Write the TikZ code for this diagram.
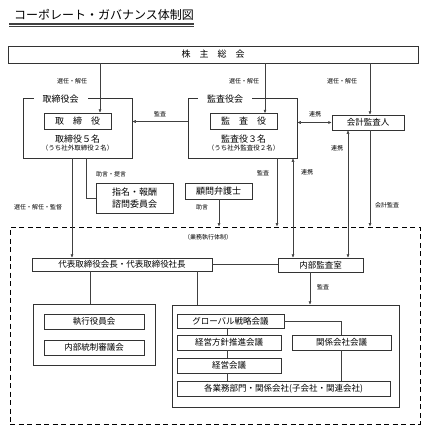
\documentclass[tikz,border=0pt]{standalone}
\usepackage{fontspec}
\setmainfont{Noto Sans CJK JP}
\usetikzlibrary{arrows.meta}
\tikzset{
  box/.style={draw=black!80, line width=0.5pt, inner sep=0pt, font=\fontsize{8.5}{10}\selectfont},
  lbl/.style={font=\fontsize{6}{7}\selectfont, inner sep=0pt},
  link/.style={draw=black!75, line width=0.5pt},
  tip/.style={link, -{Latex[length=3.5pt,width=3pt]}},
  tips/.style={link, {Latex[length=3.5pt,width=3pt]}-{Latex[length=3.5pt,width=3pt]}},
}

\begin{document}
\begin{tikzpicture}[x=1pt,y=-1pt]
  \useasboundingbox (0,0) rectangle (431,431);
  % title
  \node[anchor=west, inner sep=0pt, font=\fontsize{12}{13}\selectfont] (title) at (14,15) {コーポレート・ガバナンス体制図};
  \draw[black!75, line width=1.1pt] (9,24) -- (194,24);
  \draw[black!75, line width=0.5pt] (9,26.5) -- (194,26.5);

  % top level
  \node[box, minimum width=410pt, minimum height=17pt, font=\fontsize{9}{10}\selectfont] (holders) at (213,54.5) {株　主　総　会};

  \node[box, minimum width=109pt, minimum height=60pt] (board) at (77.5,128) {};
  \node[fill=white, inner xsep=9pt, inner ysep=1pt, font=\fontsize{9}{10}\selectfont] (boardlbl) at (60.5,99) {取締役会};
  \node[box, minimum width=67pt, minimum height=16pt, font=\fontsize{9}{10}\selectfont] (director) at (77.5,121) {取　締　役};
  \node[inner sep=0pt, font=\fontsize{9}{10}\selectfont] (dirnum) at (77.5,139) {取締役５名};
  \node[inner sep=0pt, font=\fontsize{6.5}{7}\selectfont] (dirout) at (77.5,148.5) {（うち社外取締役２名）};

  \node[box, minimum width=109pt, minimum height=60pt] (audboard) at (242.5,128) {};
  \node[fill=white, inner xsep=9pt, inner ysep=1pt, font=\fontsize{9}{10}\selectfont] (audlbl) at (225,99) {監査役会};
  \node[box, minimum width=67pt, minimum height=16pt, font=\fontsize{9}{10}\selectfont] (auditor) at (243.5,121.5) {監　査　役};
  \node[inner sep=0pt, font=\fontsize{9}{10}\selectfont] (audnum) at (243.5,139) {監査役３名};
  \node[inner sep=0pt, font=\fontsize{6.5}{7}\selectfont] (audout) at (243.5,148.5) {（うち社外監査役２名）};

  \node[box, minimum width=72pt, minimum height=15pt] (account) at (368,122.5) {会計監査人};

  \node[box, minimum width=77pt, minimum height=30pt, align=center, font=\fontsize{9}{12}\selectfont] (advise) at (134.5,198) {指名・報酬\\諮問委員会};
  \node[box, minimum width=67pt, minimum height=16pt, font=\fontsize{9}{10}\selectfont] (lawyer) at (218.5,191) {顧問弁護士};

  % execution
  \node[draw=black, line width=0.9pt, dash pattern=on 5pt off 3.5pt, minimum width=410pt, minimum height=197pt] (frame) at (215,325.5) {};
  \node[lbl] (framelbl) at (208,237) {（業務執行体制）};

  \node[box, minimum width=180pt, minimum height=13pt] (ceo) at (122,264.5) {代表取締役会長・代表取締役社長};
  \node[box, minimum width=85pt, minimum height=14pt] (inaudit) at (320.5,265) {内部監査室};

  \node[box, minimum width=122pt, minimum height=61pt] (leftgrp) at (94,334.5) {};
  \node[box, minimum width=100pt, minimum height=15pt] (officers) at (94,321.5) {執行役員会};
  \node[box, minimum width=100pt, minimum height=15pt] (control) at (94,347.5) {内部統制審議会};

  \node[box, minimum width=227pt, minimum height=102pt] (rightgrp) at (285.5,356) {};
  \node[box, minimum width=107pt, minimum height=14pt] (global) at (230.5,321) {グローバル戦略会議};
  \node[box, minimum width=104pt, minimum height=15pt] (policy) at (229,342.5) {経営方針推進会議};
  \node[box, minimum width=104pt, minimum height=15pt] (mgmt) at (229,365.5) {経営会議};
  \node[box, minimum width=99pt, minimum height=15pt] (affil) at (341.5,342.5) {関係会社会議};
  \node[box, minimum width=213pt, minimum height=15pt] (depts) at (283.5,388.5) {各業務部門・関係会社(子会社・関連会社)};

  % x positions of the connectors
  \coordinate (xa) at (100,0);
  \coordinate (xb) at (265,0);
  \coordinate (xc) at (370,0);
  \coordinate (xd) at (72,0);
  \coordinate (xe) at (86,0);
  \coordinate (xf) at (219,0);
  \coordinate (xg) at (277,0);
  \coordinate (xh) at (293,0);
  \coordinate (xi) at (348,0);
  \coordinate (xj) at (90,0);
  \coordinate (xk) at (197,0);
  \coordinate (xl) at (310,0);
  \coordinate (xm) at (227,0);
  \coordinate (xn) at (341,0);
  \coordinate (knee) at (86,198);

  \draw[tip] (holders.south -| xa) -- (director.north -| xa);
  \node[lbl] at (72,81) {選任・解任};
  \draw[tip] (holders.south -| xb) -- (auditor.north -| xb);
  \node[lbl] at (244,81) {選任・解任};
  \draw[tip] (holders.south -| xc) -- (account.north -| xc);
  \node[lbl] at (342,81) {選任・解任};

  \draw[tip] (audboard.west |- auditor) -- (board.east |- auditor);
  \node[lbl] at (160,114) {監査};
  \draw[tips] (audboard.east |- account) -- (account.west);
  \node[lbl] at (315,114) {連携};

  \draw[tip] (account.south -| xc) -- (frame.north -| xc);
  \node[lbl] at (387,205) {会計監査};
  \draw[tips] (inaudit.north -| xi) -- (account.south -| xi);
  \node[lbl] at (337,148) {連携};
  \draw[tips] (inaudit.north -| xh) -- (audboard.south -| xh);
  \node[lbl] at (307,172) {連携};
  \draw[tip] (audboard.south -| xg) -- (frame.north -| xg);
  \node[lbl] at (263,173) {監査};
  \draw[tip] (lawyer.south -| xf) -- (frame.north -| xf);
  \node[lbl] at (202,207) {助言};

  \draw[tip] (board.south -| xd) -- (ceo.north -| xd);
  \node[lbl] at (38,207) {選任・解任・監督};
  \draw[link] (board.south -| xe) -- (knee) -- (advise.west);
  \node[lbl] at (111,174) {助言・提言};

  \draw[link] (ceo.east) -- (inaudit.west |- ceo);
  \draw[link] (ceo.south -| xj) -- (leftgrp.north -| xj);
  \draw[link] (ceo.south -| xk) -- (rightgrp.north -| xk);
  \draw[tip] (inaudit.south -| xl) -- (rightgrp.north -| xl);
  \node[lbl] at (323,287) {監査};

  \draw[link] (global.south -| xm) -- (policy.north -| xm);
  \draw[link] (policy.south -| xm) -- (mgmt.north -| xm);
  \draw[link] (mgmt.south -| xm) -- (depts.north -| xm);
  \draw[link] (global.east) -| (affil.north -| xn);
  \draw[link] (affil.south -| xn) -- (depts.north -| xn);
\end{tikzpicture}
\end{document}
